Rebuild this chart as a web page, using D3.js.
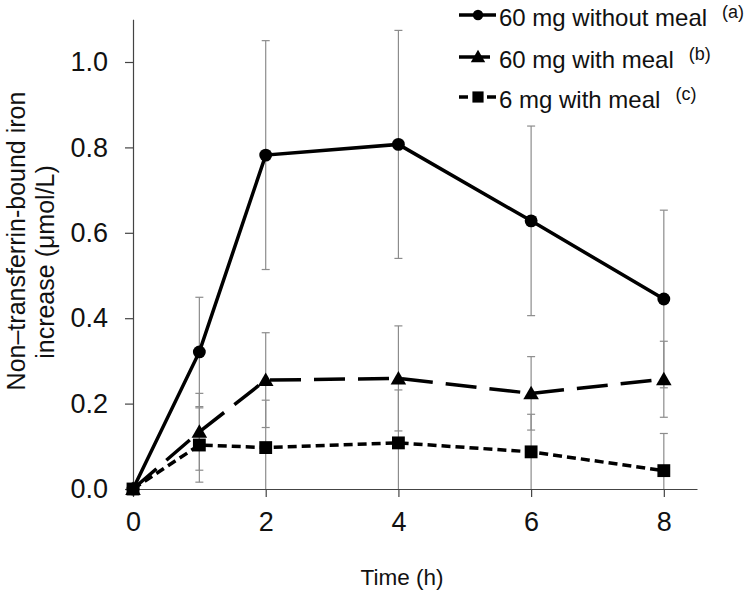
<!DOCTYPE html>
<html>
<head>
<meta charset="utf-8">
<script src="https://cdn.jsdelivr.net/npm/d3@7"></script>
<style>
  body { margin: 0; background: #fff; }
  svg { display: block; font-family: "Liberation Sans", Arial, sans-serif; }
</style>
</head>
<body>
<div id="chart"></div>
<script>
// data
const times = [0, 1, 2, 4, 6, 8]
const noMeal60 = [0, 0.321, 0.782, 0.807, 0.628, 0.445]
const noMeal60Err = [0, 0.128, 0.268, 0.267, 0.222, 0.208]
const meal60 = [0, 0.134, 0.255, 0.259, 0.224, 0.257]
const meal60Err = [0, 0.090, 0.111, 0.123, 0.086, 0.089]
const meal6 = [0, 0.103, 0.097, 0.108, 0.087, 0.043]
const meal6Err = [0, 0.087, 0.111, 0.124, 0.088, 0.087]
const seriesNames = ["60 mg without meal", "60 mg with meal", "6 mg with meal"]
const seriesNotes = ["(a)", "(b)", "(c)"]
const xTicks = [0, 2, 4, 6, 8]
const yTicks = [0, 0.2, 0.4, 0.6, 0.8, 1.0]

const width = 751, height = 595

const svg = d3.select("#chart")
    .append("svg")
    .attr("width", width)
    .attr("height", height)

const x = d3.scaleLinear().domain([0, 8.5]).range([133, 697])
const y = d3.scaleLinear().domain([0, 1.1]).range([489, 19.3])

const series = [
    {name: seriesNames[0], note: seriesNotes[0], vals: noMeal60, err: noMeal60Err, dash: null, sym: d3.symbolCircle, size: 130, lsize: 85},
    {name: seriesNames[1], note: seriesNotes[1], vals: meal60, err: meal60Err, dash: "31,13", sym: d3.symbolTriangle, size: 105, lsize: 90},
    {name: seriesNames[2], note: seriesNotes[2], vals: meal6, err: meal6Err, dash: "9,5", sym: d3.symbolSquare, size: 165, lsize: 125},
]

//axes
const yAxis = svg.append("g")
    .attr("transform", `translate(${x(0)},0)`)
    .call(d3.axisLeft(y).tickValues(yTicks).tickSize(8).tickSizeOuter(0).tickPadding(17).tickFormat(d3.format(".1f")))
const xAxis = svg.append("g")
    .attr("transform", `translate(0,${y(0)})`)
    .call(d3.axisBottom(x).tickValues(xTicks).tickSize(8).tickSizeOuter(0).tickPadding(15))

svg.selectAll(".domain, .tick line").attr("stroke", "#444").attr("stroke-width", 1.2)
svg.selectAll(".tick text").attr("font-size", 27).attr("fill", "#111")
    .attr("font-family", "Liberation Sans, Arial, sans-serif")

//axis titles
svg.append("text")
    .attr("x", 402).attr("y", 585)
    .attr("text-anchor", "middle")
    .attr("font-size", 22.5).attr("fill", "#111")
    .text("Time (h)")

svg.append("text")
    .attr("transform", "translate(25,241) rotate(-90)")
    .attr("text-anchor", "middle")
    .attr("font-size", 25).attr("fill", "#111")
    .text("Non\u2013transferrin-bound iron")
svg.append("text")
    .attr("transform", "translate(54,262) rotate(-90)")
    .attr("text-anchor", "middle")
    .attr("font-size", 25).attr("fill", "#111")
    .text("increase (\u03bcmol/L)")

//error bars (behind the lines)
const cap = 4
series.forEach(s => {
    const g = svg.append("g").attr("stroke", "#8c8c8c").attr("stroke-width", 1.2)
    times.forEach((t, i) => {
        if (!s.err[i]) return
        const hi = s.vals[i] + s.err[i]
        const lo = Math.max(0, s.vals[i] - s.err[i])
        g.append("line").attr("x1", x(t)).attr("x2", x(t)).attr("y1", y(hi)).attr("y2", y(lo))
        g.append("line").attr("x1", x(t) - cap).attr("x2", x(t) + cap).attr("y1", y(hi)).attr("y2", y(hi))
        if (s.vals[i] - s.err[i] > 0)
            g.append("line").attr("x1", x(t) - cap).attr("x2", x(t) + cap).attr("y1", y(lo)).attr("y2", y(lo))
    })
})

//lines + markers
const line = d3.line().x((d, i) => x(times[i])).y(d => y(d))
series.slice().reverse().forEach(s => {
    svg.append("path")
        .datum(s.vals)
        .attr("d", line)
        .attr("fill", "none")
        .attr("stroke", "#000")
        .attr("stroke-width", 3.5)
        .attr("stroke-dasharray", s.dash)
    svg.selectAll(null)
        .data(s.vals).enter()
        .append("path")
        .attr("transform", (d, i) => `translate(${x(times[i])},${y(d) + (s.sym === d3.symbolTriangle ? 1.5 : 0)})`)
        .attr("d", d3.symbol().type(s.sym).size(s.size))
        .attr("fill", "#000")
})

//legend
const legendY = [15, 57, 97]
const legend = svg.append("g")
series.forEach((s, i) => {
    const row = legend.append("g").attr("transform", `translate(0,${legendY[i]})`)
    row.append("line")
        .attr("x1", 459).attr("x2", 496).attr("y1", 0).attr("y2", 0)
        .attr("stroke", "#000").attr("stroke-width", 3.5)
        .attr("stroke-dasharray", s.dash)
    row.append("path")
        .attr("transform", `translate(478,${s.sym === d3.symbolTriangle ? 1 : 0})`)
        .attr("d", d3.symbol().type(s.sym).size(s.lsize))
    const t = row.append("text")
        .attr("x", 499).attr("y", 11)
        .attr("font-size", 24).attr("fill", "#111")
        .text(s.name)
    t.append("tspan")
        .attr("dx", 15).attr("dy", -8)
        .attr("font-size", 18)
        .text(s.note)
})
</script>
</body>
</html>
